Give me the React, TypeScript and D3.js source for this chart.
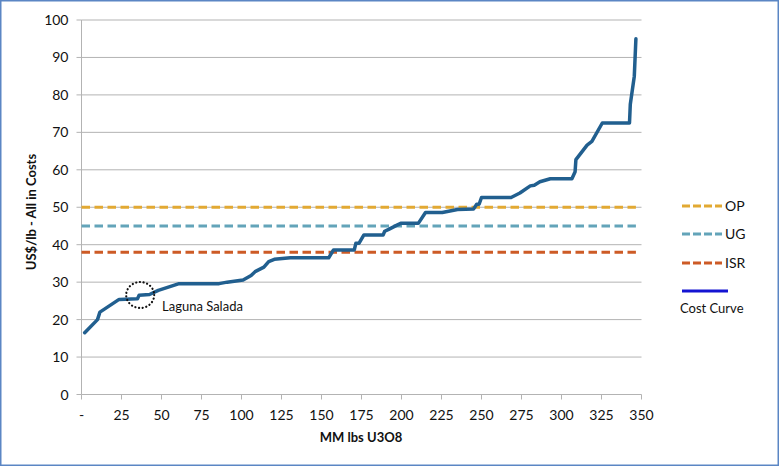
import React from "react";
import * as d3 from "d3";

const costX = [2, 10, 11.5, 23.5, 35, 36, 42.5, 48, 61, 86, 91, 101, 106, 108.5, 114, 117, 120.5, 130.5, 154.5, 157.5, 170.5, 171.5, 173.5, 176.5, 188.5, 189.5, 192, 197.5, 199.5, 210.5, 215, 225.5, 235, 245, 247, 248.5, 250, 268.5, 274, 280.5, 283, 286.5, 293, 306.5, 308.5, 309, 316, 319, 325.5, 342.5, 343, 345.5, 346.5];
const costY = [16.5, 20, 22, 25.4, 25.6, 26.5, 26.7, 27.8, 29.6, 29.6, 30.0, 30.6, 31.8, 32.8, 34, 35.5, 36.1, 36.5, 36.5, 38.6, 38.6, 40.4, 40.4, 42.6, 42.6, 43.6, 44.1, 45.3, 45.7, 45.7, 48.6, 48.6, 49.4, 49.5, 50.8, 50.8, 52.6, 52.6, 53.8, 55.7, 55.9, 56.8, 57.6, 57.6, 59.5, 62.7, 66.6, 67.6, 72.5, 72.5, 77.5, 85, 95];

const refNames = ["OP", "UG", "ISR"];
const refValues = [50, 45, 38];
const refColors = ["#e2a933", "#63a4b9", "#cd5b26"];

const yTicks = [0, 10, 20, 30, 40, 50, 60, 70, 80, 90, 100];
const xTicks = [0, 25, 50, 75, 100, 125, 150, 175, 200, 225, 250, 275, 300, 325, 350];
const xTickLabels = ["-", "25", "50", "75", "100", "125", "150", "175", "200", "225", "250", "275", "300", "325", "350"];

const annotation = { label: "Laguna Salada", x: 37, y: 26.3 };

const FONT = "Lato, 'Liberation Sans', sans-serif";

export default function App() {
  const W = 779, H = 466;
  const x = d3.scaleLinear().domain([0, 350]).range([81.5, 641.5]);
  const y = d3.scaleLinear().domain([0, 100]).range([394.5, 20]);
  const line = d3.line<number>().x((_, i) => x(costX[i])).y((d) => y(d));
  const pts = costY;
  const xEnd = costX[costX.length - 1];
  const grid = "#b3b3b3";

  return (
    <svg width={W} height={H} style={{ position: "absolute", left: 0, top: 0, background: "#fff" }} fontFamily={FONT}>
      <rect x={0.75} y={0.75} width={W - 1.5} height={H - 1.5} fill="#fff" stroke="#5b86c4" strokeWidth={1.5} />
      {yTicks.map((t) => (
        <g key={"y" + t}>
          {t > 0 && <line x1={x(0)} x2={x(350)} y1={y(t)} y2={y(t)} stroke={grid} strokeWidth={1} />}
          <line x1={x(0) - 5} x2={x(0)} y1={y(t)} y2={y(t)} stroke={grid} />
          <text x={x(0) - 13} y={y(t)} dy="0.36em" textAnchor="end" fontSize={14} fill="#111">{t}</text>
        </g>
      ))}
      <line x1={x(0)} x2={x(0)} y1={y(0)} y2={y(100)} stroke={grid} />
      <line x1={x(0)} x2={x(350)} y1={y(0)} y2={y(0)} stroke={grid} />
      {xTicks.map((t, i) => (
        <g key={"x" + t}>
          <line x1={x(t)} x2={x(t)} y1={y(0)} y2={y(0) + 5} stroke={grid} />
          <text x={x(t)} y={y(0) + 25} textAnchor="middle" fontSize={14} fill="#111">{xTickLabels[i]}</text>
        </g>
      ))}
      {refValues.map((v, i) => (
        <line key={refNames[i]} x1={x(0)} x2={x(xEnd)} y1={y(v)} y2={y(v)} stroke={refColors[i]} strokeWidth={3} strokeDasharray="8.5 4.5" />
      ))}
      <path d={line(pts) || ""} fill="none" stroke="#215f8f" strokeWidth={3.5} strokeLinejoin="round" strokeLinecap="round" />
      <ellipse cx={x(annotation.x) - 0.5} cy={y(annotation.y) - 1} rx={14} ry={13} fill="none" stroke="#111" strokeWidth={2.2} strokeDasharray="0.1 3.6" strokeLinecap="round" />
      <text x={162} y={311} fontSize={13} fill="#111">{annotation.label}</text>
      <text transform={`translate(36,212) rotate(-90)`} textAnchor="middle" fontSize={13} fontWeight="bold" fill="#111">US$/lb - All in Costs</text>
      <text x={361} y={442} textAnchor="middle" fontSize={13} fontWeight="bold" fill="#111">MM lbs U3O8</text>
      {refNames.map((n, i) => {
        const ly = [206, 234, 263][i];
        return (
          <g key={"lg" + n}>
            <line x1={682} x2={722} y1={ly} y2={ly} stroke={refColors[i]} strokeWidth={3} strokeDasharray="8 3" />
            <text x={725} y={ly} dy="0.36em" fontSize={14} fill="#111">{n}</text>
          </g>
        );
      })}
      <line x1={682} x2={728} y1={291} y2={291} stroke="#1414d2" strokeWidth={3} />
      <text x={680} y={313} fontSize={13} fill="#111">Cost Curve</text>
    </svg>
  );
}
